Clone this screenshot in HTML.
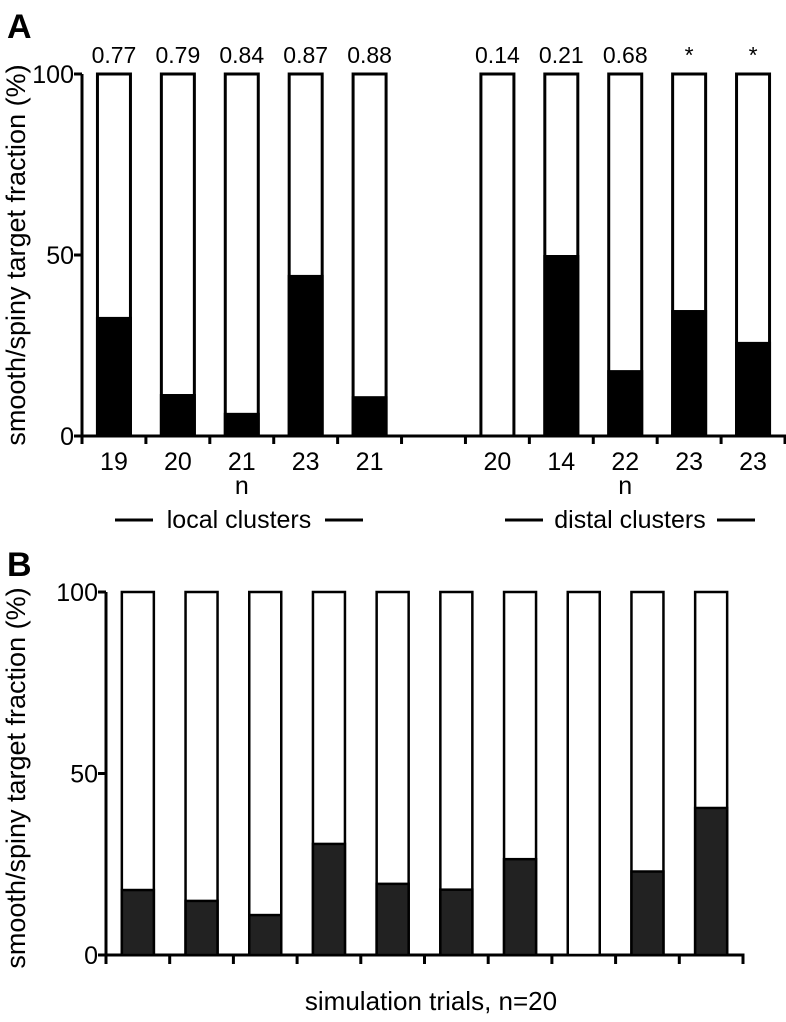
<!DOCTYPE html>
<html><head><meta charset="utf-8"><style>
html,body{margin:0;padding:0;background:#fff;}
svg{display:block;font-family:"Liberation Sans",sans-serif;}
</style></head><body>
<svg id="c" width="786" height="1022" viewBox="0 0 786 1022" xmlns="http://www.w3.org/2000/svg"></svg>
<script>
const aCategoriesN = ["19","20","21","23","21","20","14","22","23","23"];
const aSlots = [0,1,2,3,4,6,7,8,9,10];
const aSmoothPct = [32.9,11.6,6.4,44.5,11,0,50,18.2,34.8,26];
const aPLabels = ["0.77","0.79","0.84","0.87","0.88","0.14","0.21","0.68","*","*"];
const bSmoothPct = [17.9,14.9,11,30.6,19.6,18,26.4,0,23,40.5];
const yTicks = [0,50,100];

const svg = document.getElementById('c');
const NS = 'http://www.w3.org/2000/svg';
function mk(tag, attrs, name, text){
  const e = document.createElementNS(NS, tag);
  for (const k in attrs) e.setAttribute(k, attrs[k]);
  
  
  if (text !== undefined) e.textContent = text;
  svg.appendChild(e);
  return e;
}

// Panel A
const A = {x0:82, x1:785, y0:436, y100:74, nSlots:11, barW:33};
const ayS = v => A.y0 - (v/100)*(A.y0-A.y100);
const aSlotW = (A.x1-A.x0)/A.nSlots;
const axS = s => A.x0 + (s+0.5)*aSlotW;

mk('text',{x:7,y:38,'font-size':34,'font-weight':'bold'},'panel-a-label','A');
mk('text',{transform:'translate(25,255) rotate(-90)','text-anchor':'middle','font-size':27},'panel-a-y-axis-title','smooth/spiny target fraction (%)');
mk('line',{x1:A.x0,y1:A.y100,x2:A.x0,y2:A.y0+1.5,stroke:'#000','stroke-width':3},'panel-a-y-axis');
mk('line',{x1:A.x0-1.5,y1:A.y0,x2:A.x1+1,y2:A.y0,stroke:'#000','stroke-width':3},'panel-a-x-axis');
yTicks.forEach(t=>{
  mk('line',{x1:A.x0-8,y1:ayS(t),x2:A.x0,y2:ayS(t),stroke:'#000','stroke-width':3},'panel-a-y-tick');
  mk('text',{x:A.x0-8,y:ayS(t)+9,'text-anchor':'end','font-size':25},'panel-a-y-tick-label',String(t));
});
for(let s=0;s<=A.nSlots;s++){
  const x=A.x0+s*aSlotW;
  mk('line',{x1:x,y1:A.y0,x2:x,y2:A.y0+8,stroke:'#000','stroke-width':3},'panel-a-x-tick');
}
aSmoothPct.forEach((v,i)=>{
  const cx=axS(aSlots[i]), x=cx-A.barW/2;
  mk('rect',{x:x,y:A.y100,width:A.barW,height:A.y0-A.y100,fill:'#fff',stroke:'#000','stroke-width':3},'panel-a-bar-spiny');
  if(v>0) mk('rect',{x:x-1.5,y:ayS(v),width:A.barW+3,height:A.y0-ayS(v),fill:'#000'},'panel-a-bar-smooth');
  mk('text',{x:cx,y:63,'text-anchor':'middle','font-size':23},'panel-a-p-value',aPLabels[i]);
  mk('text',{x:cx,y:470,'text-anchor':'middle','font-size':25},'panel-a-n-label',aCategoriesN[i]);
});
mk('text',{x:axS(2),y:494,'text-anchor':'middle','font-size':25},'panel-a-n-title','n');
mk('text',{x:axS(8),y:494,'text-anchor':'middle','font-size':25},'panel-a-n-title','n');
mk('text',{x:239,y:528,'text-anchor':'middle','font-size':25},'local-clusters-label','local clusters');
mk('line',{x1:115,y1:520,x2:153,y2:520,stroke:'#000','stroke-width':3},'local-clusters-dash-left');
mk('line',{x1:325,y1:520,x2:363,y2:520,stroke:'#000','stroke-width':3},'local-clusters-dash-right');
mk('text',{x:630,y:528,'text-anchor':'middle','font-size':25},'distal-clusters-label','distal clusters');
mk('line',{x1:505,y1:520,x2:543,y2:520,stroke:'#000','stroke-width':3},'distal-clusters-dash-left');
mk('line',{x1:717,y1:520,x2:755,y2:520,stroke:'#000','stroke-width':3},'distal-clusters-dash-right');

// Panel B
const B = {x0:106, x1:743, y0:955, y100:592, nSlots:10, barW:32};
const byS = v => B.y0 - (v/100)*(B.y0-B.y100);
const bSlotW = (B.x1-B.x0)/B.nSlots;
const bxS = s => B.x0 + (s+0.5)*bSlotW;

mk('text',{x:7,y:576,'font-size':34,'font-weight':'bold'},'panel-b-label','B');
mk('text',{transform:'translate(25,778) rotate(-90)','text-anchor':'middle','font-size':27},'panel-b-y-axis-title','smooth/spiny target fraction (%)');
mk('line',{x1:B.x0,y1:B.y100,x2:B.x0,y2:B.y0+1.5,stroke:'#000','stroke-width':3},'panel-b-y-axis');
mk('line',{x1:B.x0-1.5,y1:B.y0,x2:B.x1+1.5,y2:B.y0,stroke:'#000','stroke-width':3},'panel-b-x-axis');
yTicks.forEach(t=>{
  mk('line',{x1:B.x0-8,y1:byS(t),x2:B.x0,y2:byS(t),stroke:'#000','stroke-width':3},'panel-b-y-tick');
  mk('text',{x:B.x0-8,y:byS(t)+9,'text-anchor':'end','font-size':25},'panel-b-y-tick-label',String(t));
});
for(let s=0;s<=B.nSlots;s++){
  const x=B.x0+s*bSlotW;
  mk('line',{x1:x,y1:B.y0,x2:x,y2:B.y0+9,stroke:'#000','stroke-width':3},'panel-b-x-tick');
}
bSmoothPct.forEach((v,i)=>{
  const cx=bxS(i), x=cx-B.barW/2;
  mk('rect',{x:x,y:B.y100,width:B.barW,height:B.y0-B.y100,fill:'#fff',stroke:'#000','stroke-width':2.5},'panel-b-bar-spiny');
  if(v>0) mk('rect',{x:x,y:byS(v),width:B.barW,height:B.y0-byS(v),fill:'#222',stroke:'#000','stroke-width':2.5},'panel-b-bar-smooth');
});
mk('text',{x:431,y:1010,'text-anchor':'middle','font-size':26},'panel-b-x-axis-title','simulation trials, n=20');
</script>
</body></html>
